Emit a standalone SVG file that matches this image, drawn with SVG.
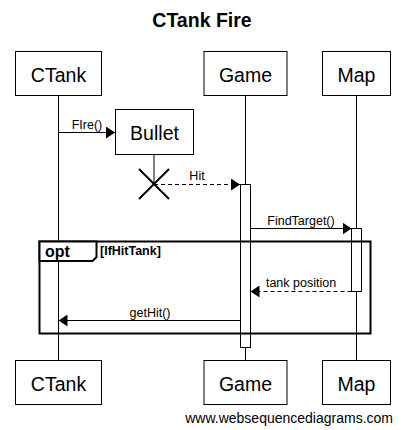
<svg xmlns="http://www.w3.org/2000/svg" width="405" height="430" viewBox="0 0 405 430">
<style>
text{font-family:"Liberation Sans",Arial,sans-serif;fill:#000}
.box{fill:#fff;stroke:#000;stroke-width:1}
.lbl{font-size:19.5px;text-anchor:middle}
.life{stroke:#000;stroke-width:1}
.msg{font-size:12.5px;text-anchor:middle}
.solid{stroke:#000;stroke-width:1;fill:none}
.dash{stroke:#000;stroke-width:1;fill:none;stroke-dasharray:4,3}
.act{fill:#fff;stroke:#000;stroke-width:1}
</style>
<defs>
<marker id="ah" markerWidth="9" markerHeight="12" refX="9" refY="6" orient="auto" markerUnits="userSpaceOnUse">
<path d="M0,0 L9,6 L0,12 Z" fill="#000"/>
</marker>
</defs>
<rect width="405" height="430" fill="#fff"/>
<text x="202" y="26.5" font-size="19.5" font-weight="bold" text-anchor="middle">CTank Fire</text>
<g id="lifelines">
<line class="life" x1="58.5" y1="96" x2="58.5" y2="360"/>
<line class="life" x1="245.5" y1="96" x2="245.5" y2="360"/>
<line class="life" x1="356.5" y1="96" x2="356.5" y2="360"/>
<line class="life" x1="154" y1="155" x2="154" y2="184"/>
</g>
<g id="activations">
<rect class="act" x="240.5" y="184.5" width="10" height="163"/>
<rect class="act" x="351.5" y="228.5" width="10" height="63"/>
</g>
<g id="opt">
<rect x="39.5" y="241.5" width="331" height="92" fill="none" stroke="#000" stroke-width="2"/>
<path d="M39.5,241.5 H96.5 V257 L92.5,261 H39.5 Z" fill="#fff" stroke="#000" stroke-width="2"/>
<text x="45" y="257" font-size="16" font-weight="bold">opt</text>
<text x="100" y="254.5" font-size="12.5" font-weight="bold">[IfHitTank]</text>
</g>
<g id="connectors">
<line class="solid" x1="58.5" y1="132.5" x2="115" y2="132.5" marker-end="url(#ah)"/>
<text class="msg" x="87" y="128.5">FIre()</text>
<line class="dash" x1="154" y1="184.5" x2="240" y2="184.5" marker-end="url(#ah)"/>
<text class="msg" x="197" y="180">Hit</text>
<line class="solid" x1="250.5" y1="228.5" x2="351.5" y2="228.5" marker-end="url(#ah)"/>
<text class="msg" x="301" y="225">FindTarget()</text>
<line class="dash" x1="351.5" y1="291.5" x2="250.5" y2="291.5" marker-end="url(#ah)"/>
<text class="msg" x="301" y="287">tank position</text>
<line class="solid" x1="240.5" y1="320.5" x2="58.5" y2="320.5" marker-end="url(#ah)"/>
<text class="msg" x="150" y="316.5">getHit()</text>
</g>
<g id="destroy">
<line x1="139" y1="169" x2="169" y2="199" stroke="#000" stroke-width="2"/>
<line x1="169" y1="169" x2="139" y2="199" stroke="#000" stroke-width="2"/>
</g>
<g id="CTank">
<rect class="box" x="15.5" y="51.5" width="86" height="44"/>
<text class="lbl" x="58.5" y="81.5">CTank</text>
</g>
<g id="Game">
<rect class="box" x="204" y="51.5" width="83" height="44"/>
<text class="lbl" x="245.5" y="81.5">Game</text>
</g>
<g id="Map">
<rect class="box" x="322.5" y="51.5" width="68" height="44"/>
<text class="lbl" x="356.5" y="81.5">Map</text>
</g>
<g id="Bullet">
<rect class="box" x="115.5" y="109.5" width="78" height="45"/>
<text class="lbl" x="154.5" y="140">Bullet</text>
</g>
<g id="CTank-bottom">
<rect class="box" x="15.5" y="360.5" width="86" height="44"/>
<text class="lbl" x="58.5" y="390.5">CTank</text>
</g>
<g id="Game-bottom">
<rect class="box" x="204" y="360.5" width="83" height="44"/>
<text class="lbl" x="245.5" y="390.5">Game</text>
</g>
<g id="Map-bottom">
<rect class="box" x="322.5" y="360.5" width="68" height="44"/>
<text class="lbl" x="356.5" y="390.5">Map</text>
</g>
<text x="393" y="423" font-size="14" text-anchor="end">www.websequencediagrams.com</text>
</svg>
